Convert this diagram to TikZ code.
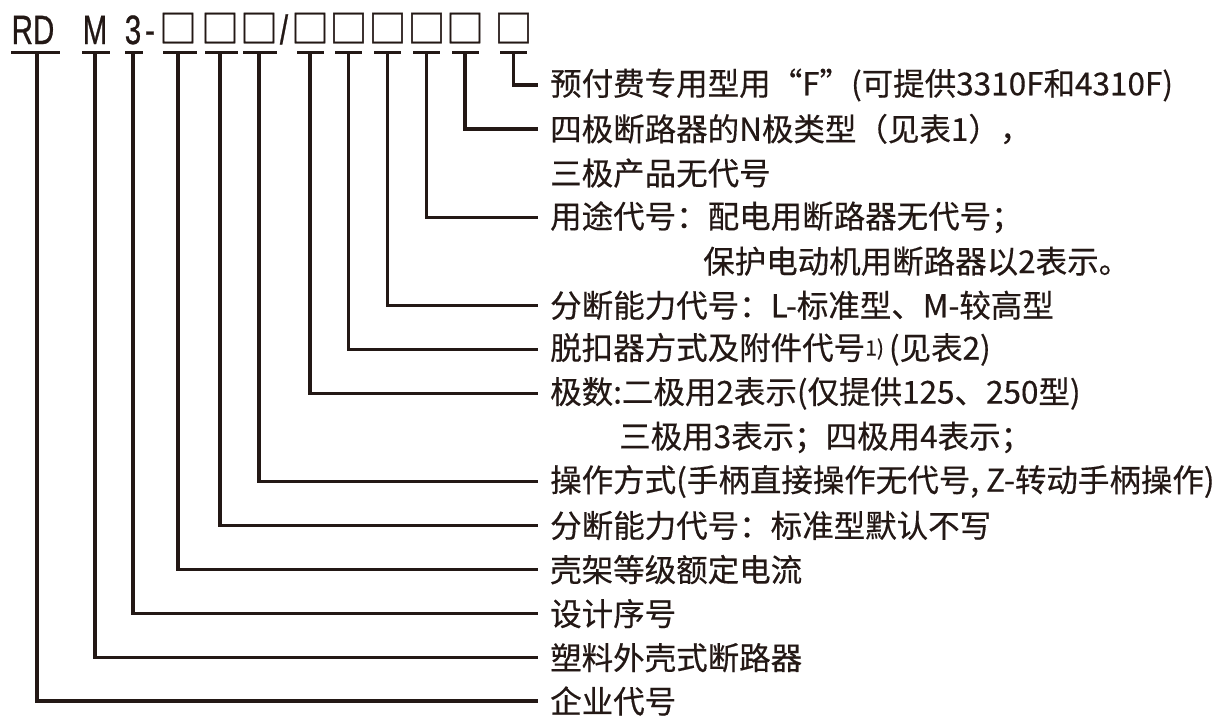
\documentclass[tikz,border=0pt]{standalone}
\usepackage{fontspec}
\usepackage{graphicx}
\setmainfont{Noto Sans CJK SC}
\newfontfamily\latinfont[FakeBold=0.8]{Liberation Sans}
\newfontfamily\boxfont[FakeBold=1.2]{Noto Sans CJK SC}
\newfontfamily\labfont[FakeBold=0.4]{Noto Sans CJK SC}
\definecolor{ink}{RGB}{35,24,21}
\tikzset{
  lab/.style={anchor=west, inner sep=0pt, font=\labfont\fontsize{31.5}{31.5}\selectfont, text=ink},
  tok/.style={anchor=base, inner sep=0pt, font=\latinfont\fontsize{41}{41}\selectfont, text=ink},
  boxtok/.style={anchor=base, inner sep=0pt, font=\boxfont\fontsize{38}{38}\selectfont, text=ink},
  conn/.style={draw=ink, line width=3.3pt},
  ubar/.style={draw=ink, line width=3.3pt},
}
\newcommand{\cnd}[1]{\scalebox{0.72}[1]{#1}}
\begin{document}
\begin{tikzpicture}[x=1pt,y=-1pt]
\useasboundingbox (0,0) rectangle (1213,715);
\fill[white] (0,0) rectangle (1213,715);
% top code tokens
\node[tok] (tRD) at (33,44) {\cnd{RD}};
\node[tok] (tM) at (95,44) {\cnd{M}};
\node[tok] (t3) at (133,44) {\cnd{3}};
\node[tok] (tdash) at (150,44) {\cnd{-}};
\node[boxtok] (b1) at (178,42.5) {□};
\node[boxtok] (b2) at (220,42.5) {□};
\node[boxtok] (b3) at (259,42.5) {□};
\node[tok] (tslash) at (284,44) {\cnd{/}};
\node[boxtok] (b4) at (310,42.5) {□};
\node[boxtok] (b5) at (348.5,42.5) {□};
\node[boxtok] (b6) at (387.5,42.5) {□};
\node[boxtok] (b7) at (426.5,42.5) {□};
\node[boxtok] (b8) at (465,42.5) {□};
\node[boxtok] (b9) at (513.5,42.5) {□};
% underline bars
\coordinate (barline) at (0,52.5);
\draw[ubar] (11,52.5) -- (60,52.5);
\draw[ubar] (82,52.5) -- (110,52.5);
\draw[ubar] (125,52.5) -- (143,52.5);
\draw[ubar] (163,52.5) -- (197,52.5);
\draw[ubar] (205,52.5) -- (238,52.5);
\draw[ubar] (243,52.5) -- (277,52.5);
\draw[ubar] (297,52.5) -- (324,52.5);
\draw[ubar] (335,52.5) -- (362,52.5);
\draw[ubar] (374,52.5) -- (401,52.5);
\draw[ubar] (413,52.5) -- (440,52.5);
\draw[ubar] (452,52.5) -- (479,52.5);
\draw[ubar] (500,52.5) -- (527,52.5);
% labels
\node[lab] (L1) at (550,85) {预付费专用型用“F”(可提供3310F和4310F)};
\node[lab] (L2) at (550,129) {四极断路器的N极类型（见表1），};
\node[lab] (L3) at (550,173.1) {三极产品无代号};
\node[lab] (L4) at (550,217.2) {用途代号：配电用断路器无代号；};
\node[lab] (L5) at (703,261.2) {保护电动机用断路器以2表示。};
\node[lab] (L6) at (550,305.3) {分断能力代号：L-标准型、M-较高型};
\node[lab] (L7) at (550,349.3) {脱扣器方式及附件代号{\fontsize{21}{21}\selectfont\raisebox{4pt}{1)}}\hspace{5pt}(见表2)};
\node[lab] (L8) at (550,393.4) {极数:二极用2表示(仅提供125、250型)};
\node[lab] (L9) at (619,437.4) {三极用3表示；四极用4表示；};
\node[lab] (L10) at (550,481.5) {操作方式(手柄直接操作无代号, Z-转动手柄操作)};
\node[lab] (L11) at (550,525.5) {分断能力代号：标准型默认不写};
\node[lab] (L12) at (550,569.6) {壳架等级额定电流};
\node[lab] (L13) at (550,613.6) {设计序号};
\node[lab] (L14) at (550,657.7) {塑料外壳式断路器};
\node[lab] (L15) at (550,701) {企业代号};
% connectors
\draw[conn] (b9 |- barline) |- ([xshift=-12pt]L1.west);
\draw[conn] (b8 |- barline) |- ([xshift=-12pt]L2.west);
\draw[conn] (b7 |- barline) |- ([xshift=-12pt]L4.west);
\draw[conn] (b6 |- barline) |- ([xshift=-12pt]L6.west);
\draw[conn] (b5 |- barline) |- ([xshift=-12pt]L7.west);
\draw[conn] (b4 |- barline) |- ([xshift=-12pt]L8.west);
\draw[conn] (b3 |- barline) |- ([xshift=-12pt]L10.west);
\draw[conn] (b2 |- barline) |- ([xshift=-12pt]L11.west);
\draw[conn] (b1 |- barline) |- ([xshift=-12pt]L12.west);
\draw[conn] (t3 |- barline) |- ([xshift=-12pt]L13.west);
\draw[conn] (tM |- barline) |- ([xshift=-12pt]L14.west);
\draw[conn] ([xshift=4pt]tRD.center |- barline) |- ([xshift=-12pt]L15.west);
\end{tikzpicture}
\end{document}
